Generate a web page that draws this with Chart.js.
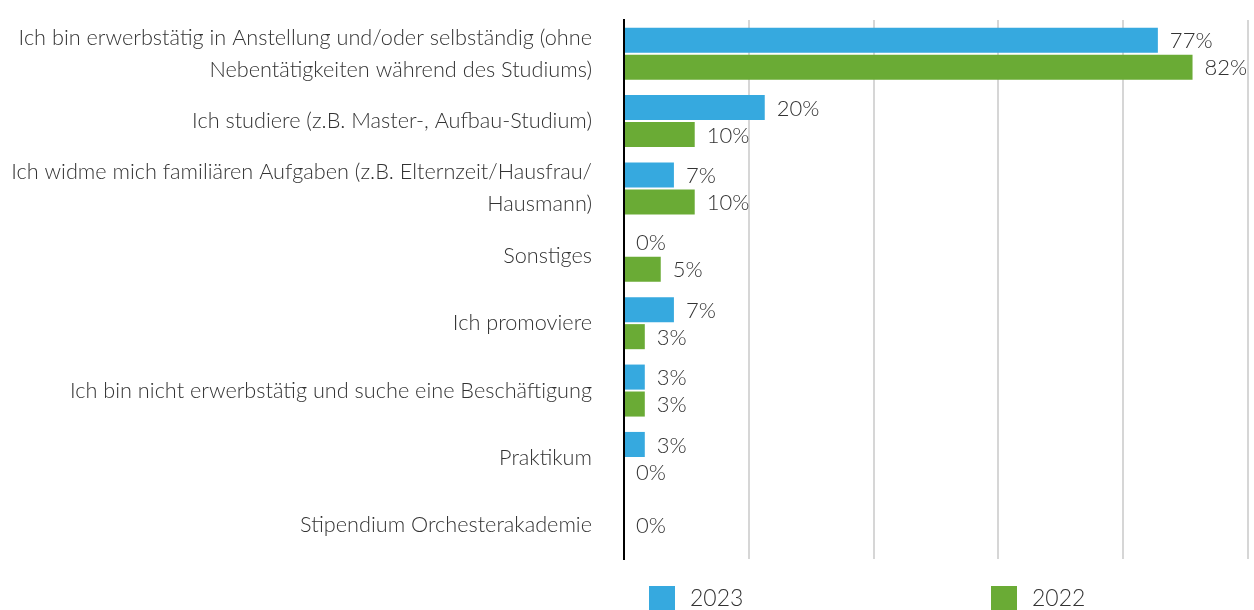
<!DOCTYPE html>
<html>
<head>
<meta charset="utf-8">
<script src="https://cdn.jsdelivr.net/npm/chart.js@4"></script>
<style>
  html, body { margin: 0; padding: 0; background: #ffffff; }
  #wrap { width: 1254px; height: 610px; position: relative; }
</style>
</head>
<body>
<div id="wrap"><canvas id="c" width="1254" height="610"></canvas></div>
<script>
const categories = [
  ["Ich bin erwerbstätig in Anstellung und/oder selbständig (ohne", "Nebentätigkeiten während des Studiums)"],
  "Ich studiere (z.B. Master-, Aufbau-Studium)",
  ["Ich widme mich familiären Aufgaben (z.B. Elternzeit/Hausfrau/", "Hausmann)"],
  "Sonstiges",
  "Ich promoviere",
  "Ich bin nicht erwerbstätig und suche eine Beschäftigung",
  "Praktikum",
  "Stipendium Orchesterakademie"
];
const seriesNames = ["2023", "2022"];
const values2023 = [77, 20.3, 7.2, 0, 7.2, 3, 3, 0];
const values2022 = [82, 10.2, 10.2, 5.3, 3, 3, 0, null];
const xTicks = [0, 18, 36, 54, 72, 90];

const FONT = "Lato, 'Open Sans', 'DejaVu Sans', sans-serif";
const TEXT = "#333333";
const BLUE = "#36a9df";
const GREEN = "#6aab35";

const valueLabels = {
  id: 'valueLabels',
  afterDatasetsDraw(chart) {
    const ctx = chart.ctx;
    ctx.save();
    ctx.font = "300 22px " + FONT;
    ctx.fillStyle = TEXT;
    ctx.textBaseline = 'middle';
    ctx.textAlign = 'left';
    chart.data.datasets.forEach((ds, di) => {
      const meta = chart.getDatasetMeta(di);
      meta.data.forEach((el, i) => {
        const v = ds.data[i];
        if (v === null || v === undefined) return;
        ctx.fillText(Math.round(v) + "%", el.x + 12, el.y + 1);
      });
    });
    ctx.restore();
  }
};

const customLegend = {
  id: 'customLegend',
  afterDraw(chart) {
    const ctx = chart.ctx;
    const a = chart.chartArea;
    ctx.save();
    ctx.font = "300 23px " + FONT;
    ctx.textBaseline = 'middle';
    ctx.textAlign = 'left';
    chart.data.datasets.forEach((ds, i) => {
      const x = a.left + 25 + i * 342;
      const y = 586;
      ctx.fillStyle = ds.backgroundColor;
      ctx.fillRect(x, y, 26, 24);
      ctx.fillStyle = TEXT;
      ctx.fillText(ds.label, x + 41, y + 13);
    });
    ctx.restore();
  }
};

new Chart(document.getElementById('c'), {
  type: 'bar',
  data: {
    labels: categories,
    datasets: [
      { label: seriesNames[0], data: values2023, backgroundColor: BLUE, categoryPercentage: 0.8, barPercentage: 0.93 },
      { label: seriesNames[1], data: values2022, backgroundColor: GREEN, categoryPercentage: 0.8, barPercentage: 0.93 }
    ]
  },
  options: {
    indexAxis: 'y',
    responsive: false,
    animation: false,
    skipNull: true,
    layout: { padding: { top: 20, right: 6, bottom: 51, left: 0 } },
    plugins: { legend: { display: false }, tooltip: { enabled: false } },
    scales: {
      x: {
        min: xTicks[0], max: xTicks[xTicks.length - 1],
        afterBuildTicks(scale) { scale.ticks = xTicks.map(v => ({ value: v })); },
        ticks: { display: false },
        grid: { color: '#d6d6d6', lineWidth: 2, drawTicks: false },
        border: { display: false },
        afterFit(scale) { scale.height = 0; scale.paddingLeft = 0; scale.paddingRight = 0; }
      },
      y: {
        afterFit(scale) { scale.width = 624; scale.paddingTop = 0; scale.paddingBottom = 0; },
        grid: { display: false, drawTicks: false },
        border: { display: true, color: '#000000', width: 2 },
        ticks: {
          color: TEXT,
          padding: 32,
          font: { family: FONT, size: 21.7, weight: 300, lineHeight: 1.47 }
        }
      }
    }
  },
  plugins: [valueLabels, customLegend]
});
</script>
</body>
</html>
